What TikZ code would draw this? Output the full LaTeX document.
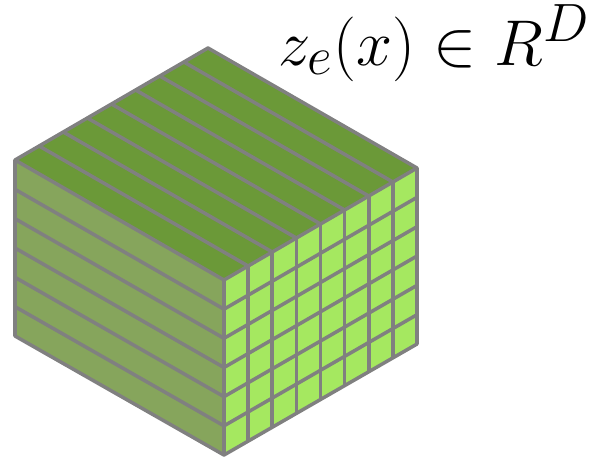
\documentclass[tikz,border=0pt]{standalone}
\usepackage{amsmath}
\usetikzlibrary{calc}
\definecolor{topgreen}{RGB}{107, 153, 56}
\definecolor{sidegreen}{RGB}{134, 165, 92}
\definecolor{cellgreen}{RGB}{165, 232, 96}
\definecolor{gridgray}{RGB}{128, 128, 128}
\tikzset{gridline/.style={gridgray, line width=2pt, line join=round}}
\begin{document}
\begin{tikzpicture}[x=0.02cm, y=-0.02cm]
	\useasboundingbox (0,0) rectangle (595,458);
	% Corners of the block
	\coordinate (backtop) at (208,48);
	\coordinate (lefttop) at (15,160);
	\coordinate (fronttop) at (224,280);
	\coordinate (righttop) at (417,168);
	\coordinate (leftbot) at (15,336);
	\coordinate (frontbot) at (224,455);
	\coordinate (rightbot) at (417,344);
	% Three faces
	\fill[topgreen] (backtop) -- (lefttop) -- (fronttop) -- (righttop) -- cycle;
	\fill[sidegreen] (lefttop) -- (fronttop) -- (frontbot) -- (leftbot) -- cycle;
	\fill[cellgreen] (fronttop) -- (righttop) -- (rightbot) -- (frontbot) -- cycle;
	% Stripes on the top
	\foreach \i in {1,...,7}
	\draw[gridline] ($(lefttop)!\i/8!(backtop)$) -- ($(fronttop)!\i/8!(righttop)$);
	% Stripes on the left side and rows on the right side
	\foreach \i in {1,...,5} {
		\draw[gridline] ($(lefttop)!\i/6!(leftbot)$) -- ($(fronttop)!\i/6!(frontbot)$);
		\draw[gridline] ($(fronttop)!\i/6!(frontbot)$) -- ($(righttop)!\i/6!(rightbot)$);
	}
	% Columns on the right side
	\foreach \i in {1,...,7}
	\draw[gridline] ($(fronttop)!\i/8!(righttop)$) -- ($(frontbot)!\i/8!(rightbot)$);
	% Outline
	\draw[gridline] (backtop) -- (lefttop) -- (leftbot) -- (frontbot) -- (rightbot) -- (righttop) -- cycle;
	\draw[gridline] (lefttop) -- (fronttop) -- (righttop);
	\draw[gridline] (fronttop) -- (frontbot);
	% Label
	\node[anchor=base west, inner sep=0pt, font=\Huge, scale=1.48] (latent) at (278,65)
	{$z_e(x) \in R^D$};
\end{tikzpicture}
\end{document}
